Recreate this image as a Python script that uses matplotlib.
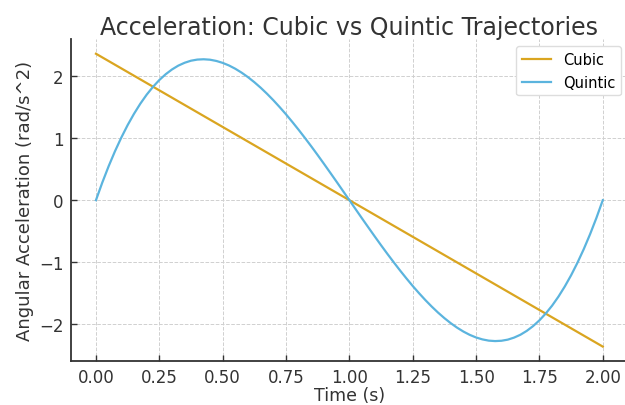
import matplotlib.pyplot as plt

# Values
time_cubic = [0.0, 2.0]
acc_cubic = [2.356, -2.356]

time_quintic = [0.000, 0.025, 0.050, 0.075, 0.100, 0.125, 0.150, 0.175, 0.200, 0.225,
                0.250, 0.275, 0.300, 0.325, 0.350, 0.375, 0.400, 0.425, 0.450, 0.475,
                0.500, 0.525, 0.550, 0.575, 0.600, 0.625, 0.650, 0.675, 0.700, 0.725,
                0.750, 0.775, 0.800, 0.825, 0.850, 0.875, 0.900, 0.925, 0.950, 0.975,
                1.000, 1.025, 1.050, 1.075, 1.100, 1.125, 1.150, 1.175, 1.200, 1.225,
                1.250, 1.275, 1.300, 1.325, 1.350, 1.375, 1.400, 1.425, 1.450, 1.475,
                1.500, 1.525, 1.550, 1.575, 1.600, 1.625, 1.650, 1.675, 1.700, 1.725,
                1.750, 1.775, 1.800, 1.825, 1.850, 1.875, 1.900, 1.925, 1.950, 1.975,
                2.000]
acc_quintic = [0.000, 0.284, 0.546, 0.787, 1.007, 1.208, 1.389, 1.552, 1.697, 1.823,
               1.933, 2.026, 2.103, 2.165, 2.211, 2.244, 2.262, 2.267, 2.260, 2.240,
               2.209, 2.167, 2.114, 2.051, 1.979, 1.898, 1.809, 1.712, 1.608, 1.497,
               1.381, 1.258, 1.131, 0.999, 0.864, 0.725, 0.583, 0.439, 0.294, 0.147,
               0.000, -0.147, -0.294, -0.439, -0.583, -0.725, -0.864, -0.999, -1.131, -1.258,
               -1.381, -1.497, -1.608, -1.712, -1.809, -1.898, -1.979, -2.051, -2.114, -2.167,
               -2.209, -2.240, -2.260, -2.267, -2.262, -2.244, -2.211, -2.165, -2.103, -2.026,
               -1.933, -1.823, -1.697, -1.552, -1.389, -1.208, -1.007, -0.787, -0.546, -0.284,
               0.000]

xticks = [0.00, 0.25, 0.50, 0.75, 1.00, 1.25, 1.50, 1.75, 2.00]
yticks = [-2, -1, 0, 1, 2]

fig = plt.figure(figsize=(6.25, 4.06), dpi=100)
ax = fig.add_axes([0.113, 0.108, 0.892, 0.793])

ax.plot(time_cubic, acc_cubic, color='#DAA520', lw=1.6, label='Cubic')
ax.plot(time_quintic, acc_quintic, color='#5BB4DE', lw=1.6, label='Quintic')

ax.set_xlim(-0.1, 2.1)
ax.set_ylim(-2.59, 2.59)
ax.set_xticks(xticks)
ax.set_xticklabels([f'{v:.2f}' for v in xticks])
ax.set_yticks(yticks)
ax.set_yticklabels([f'{v}'.replace('-', '\u2212') for v in yticks])

ax.grid(True, linestyle='--', color='#d0d0d0', lw=0.7)
ax.spines['top'].set_visible(False)
ax.spines['right'].set_visible(False)
for s in ['left', 'bottom']:
    ax.spines[s].set_color('#333333')
    ax.spines[s].set_linewidth(1.3)
ax.tick_params(direction='in', length=4, width=1, colors='#333333', labelsize=12, pad=5)

ax.set_title('Acceleration: Cubic vs Quintic Trajectories', fontsize=17, color='#333333', pad=4)
ax.set_xlabel('Time (s)', fontsize=12.5, color='#333333', labelpad=0)
ax.set_ylabel('Angular Acceleration (rad/s^2)', fontsize=13, color='#333333', labelpad=4)
ax.legend(loc='upper right', fontsize=10.5, framealpha=1, edgecolor='#dddddd')

plt.savefig('out.png', dpi=100)
plt.close()
